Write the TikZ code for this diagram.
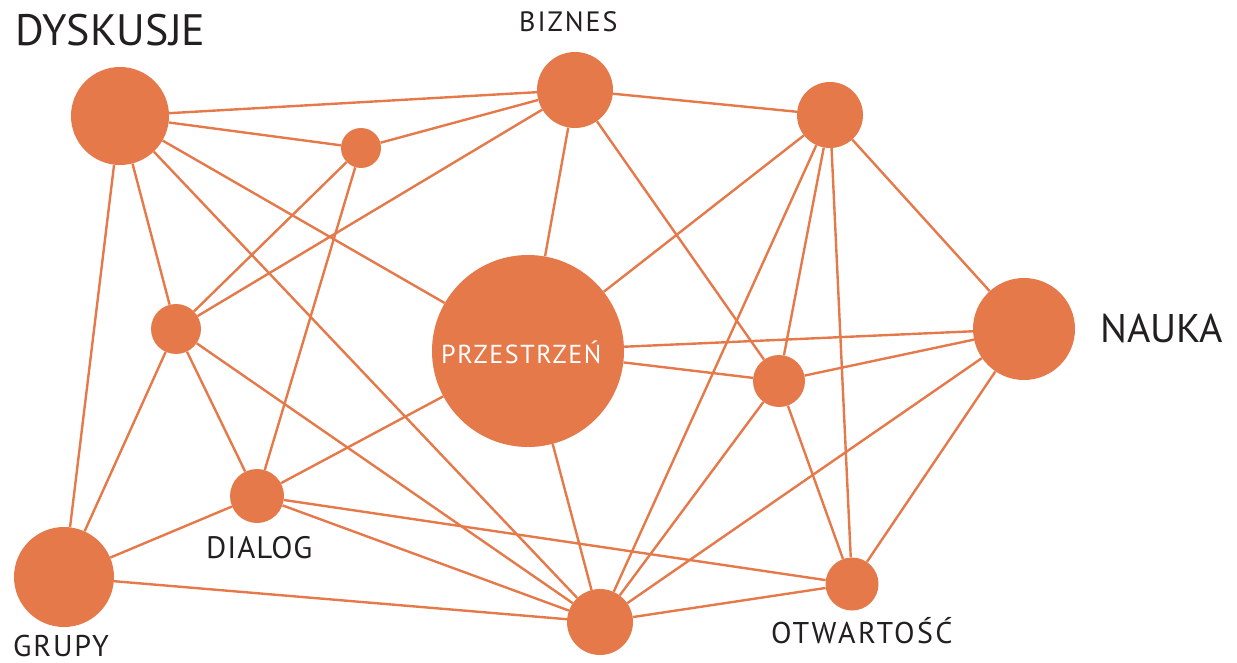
\documentclass[tikz,border=0pt]{standalone}
\usepackage{fontspec}
\setmainfont{PT Sans}
\usetikzlibrary{backgrounds}
\definecolor{net}{RGB}{229,121,74}
\definecolor{ink}{RGB}{35,31,32}
\begin{document}
\begin{tikzpicture}[x=1pt,y=-1pt,
  hub/.style={circle,fill=net,draw=none,inner sep=0pt,minimum size=#1},
  link/.style={draw=net,line width=2.4pt},
  lab/.style={text=ink,anchor=base west,inner sep=0pt},
  inlab/.style={text=white,anchor=base west,inner sep=0pt}]
\useasboundingbox (0,0) rectangle (1237,663);
% circles
\node[hub=98pt]  (dy) at (120,116) {};
\node[hub=40pt]  (s1) at (361,148) {};
\node[hub=76pt]  (bi) at (575,90)  {};
\node[hub=66pt]  (tr) at (830,115) {};
\node[hub=50pt]  (c1) at (176,329) {};
\node[hub=192pt] (pr) at (528,351) {};
\node[hub=102pt] (na) at (1024,329) {};
\node[hub=52pt]  (d1) at (779,381) {};
\node[hub=54pt]  (di) at (257,496) {};
\node[hub=100pt] (gr) at (64,577)  {};
\node[hub=66pt]  (e)  at (600,622) {};
\node[hub=53pt]  (ot) at (852,584) {};
% labels
\node[lab,font=\fontsize{44}{44}\selectfont] (tdy) at (15,46) {DYSKUSJE};
\node[lab,font=\fontsize{28}{28}\selectfont\addfontfeature{LetterSpace=7}] (tbi) at (519,32) {BIZNES};
\node[lab,font=\fontsize{40}{40}\selectfont] (tna) at (1100,342) {NAUKA};
\node[inlab,font=\fontsize{26}{26}\selectfont\addfontfeature{LetterSpace=6}] (tpr) at (441,363) {PRZESTRZEŃ};
\node[lab,font=\fontsize{31}{31}\selectfont\addfontfeature{LetterSpace=3}] (tdi) at (206,558) {DIALOG};
\node[lab,font=\fontsize{30}{30}\selectfont\addfontfeature{LetterSpace=6}] (tgr) at (13,656) {GRUPY};
\node[lab,font=\fontsize{30}{30}\selectfont\addfontfeature{LetterSpace=8}] (tot) at (771,643) {OTWARTOŚĆ};
% connectors
\begin{scope}[on background layer]
\draw[link] (dy) -- (bi);
\draw[link] (dy) -- (s1);
\draw[link] (dy) -- (c1);
\draw[link] (dy) -- (gr);
\draw[link] (dy) -- (e);
\draw[link] (dy) -- (pr);
\draw[link] (s1) -- (bi);
\draw[link] (s1) -- (c1);
\draw[link] (s1) -- (di);
\draw[link] (bi) -- (c1);
\draw[link] (bi) -- (pr);
\draw[link] (bi) -- (tr);
\draw[link] (bi) -- (d1);
\draw[link] (tr) -- (pr);
\draw[link] (tr) -- (na);
\draw[link] (tr) -- (e);
\draw[link] (tr) -- (d1);
\draw[link] (tr) -- (ot);
\draw[link] (c1) -- (di);
\draw[link] (c1) -- (gr);
\draw[link] (c1) -- (e);
\draw[link] (pr) -- (di);
\draw[link] (pr) -- (e);
\draw[link] (pr) -- (na);
\draw[link] (pr) -- (d1);
\draw[link] (di) -- (gr);
\draw[link] (di) -- (ot);
\draw[link] (di) -- (e);
\draw[link] (gr) -- (e);
\draw[link] (e) -- (d1);
\draw[link] (e) -- (na);
\draw[link] (e) -- (ot);
\draw[link] (d1) -- (na);
\draw[link] (d1) -- (ot);
\draw[link] (na) -- (ot);
\end{scope}
\end{tikzpicture}
\end{document}
